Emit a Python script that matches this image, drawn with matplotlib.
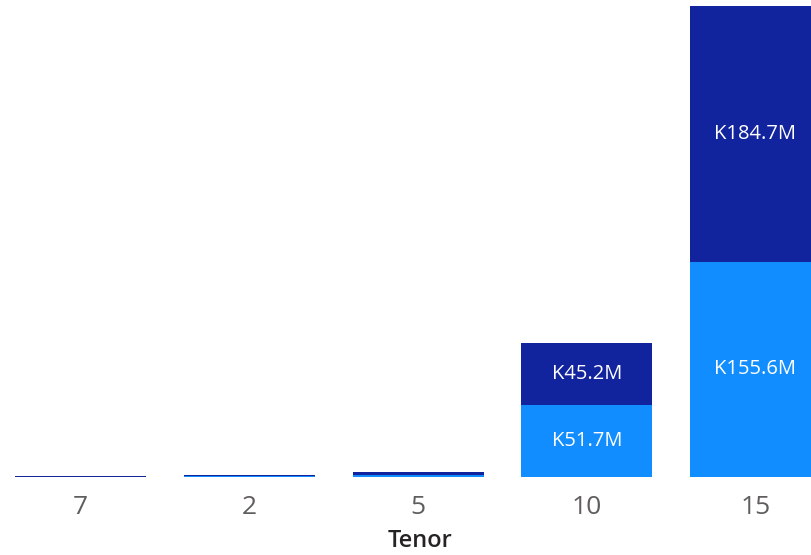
import matplotlib
matplotlib.use("Agg")
import matplotlib.pyplot as plt
import numpy as np

categories = ["7", "2", "5", "10", "15"]
light_vals = [0.1, 0.7, 1.5, 51.7, 155.6]   # lower segment (K millions)
dark_vals = [0.7, 0.8, 2.2, 45.2, 184.7]    # upper segment (K millions)
light_labels = ["", "", "", "K51.7M", "K155.6M"]
dark_labels = ["", "", "", "K45.2M", "K184.7M"]

LIGHT = "#118DFF"
DARK = "#12239E"

fig = plt.figure(figsize=(8.12, 5.55), dpi=100)
ax = fig.add_axes([0, 78 / 555, 1, 1 - 78 / 555])

x = np.arange(len(categories))
w = 131 / 168.75
ax.bar(x, light_vals, width=w, color=LIGHT)
ax.bar(x, dark_vals, width=w, bottom=light_vals, color=DARK)

for i in range(len(categories)):
    if light_labels[i]:
        ax.text(x[i], light_vals[i] / 2, light_labels[i], ha="center", va="center",
                color="white", fontsize=14.5, family="Open Sans")
    if dark_labels[i]:
        ax.text(x[i], light_vals[i] + dark_vals[i] / 2, dark_labels[i], ha="center",
                va="center", color="white", fontsize=14.5, family="Open Sans")

ax.set_xlim(-80.5 / 168.75, (812 - 80.5) / 168.75)
total_max = light_vals[-1] + dark_vals[-1]
ax.set_ylim(0, total_max * 477 / 471)

ax.set_xticks(x)
ax.set_xticklabels(categories, fontsize=19, color="#605E5C", family="Open Sans")
ax.tick_params(axis="x", length=0, pad=13)
ax.set_yticks([])
for s in ax.spines.values():
    s.set_visible(False)

fig.text(420 / 812, 1 - 541 / 555, "Tenor", fontsize=17, color="#252423",
         family="Open Sans", fontweight="semibold", ha="center", va="center")

fig.savefig("out.png", dpi=100)
